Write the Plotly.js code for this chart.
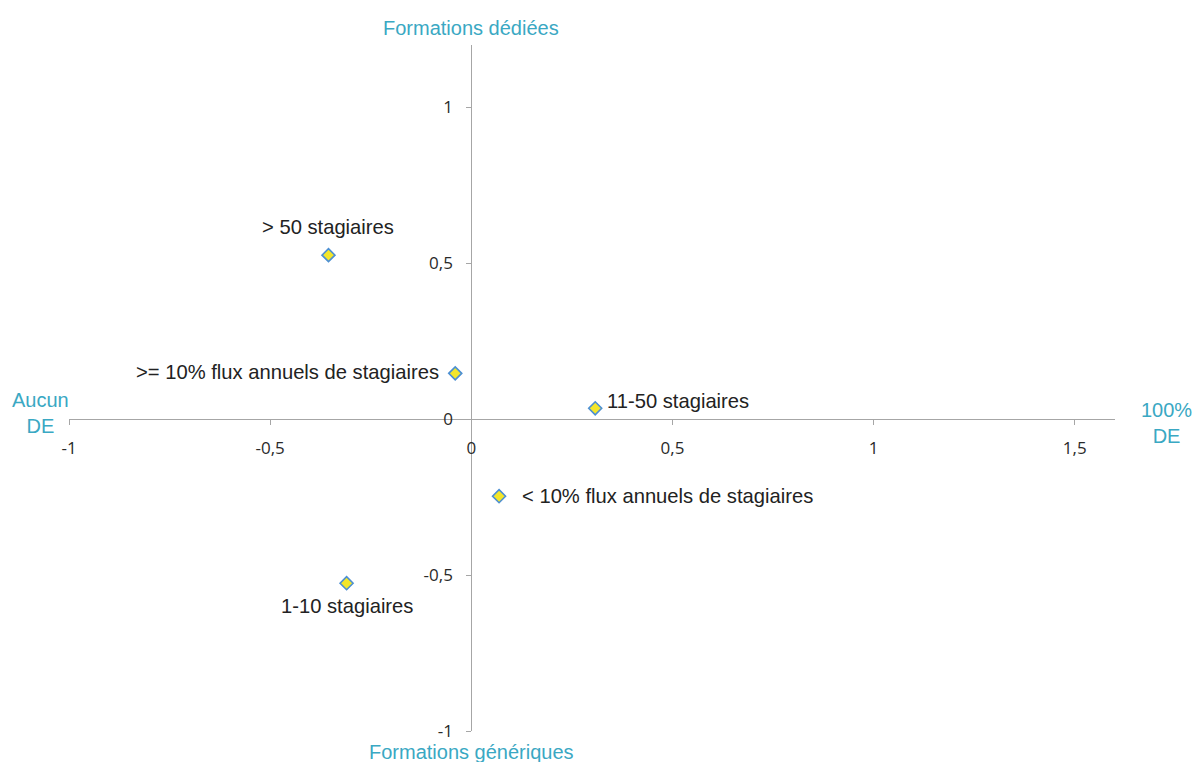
<!DOCTYPE html>
<html>
<head>
<meta charset="utf-8">
<script src="https://cdn.plot.ly/plotly-3.0.1.min.js"></script>
<style>html,body{margin:0;padding:0;background:#fff;}#chart{width:1192px;height:762px;}</style>
</head>
<body>
<div id="chart"></div>
<script>
// Data
const labels = ["> 50 stagiaires", ">= 10% flux annuels de stagiaires", "11-50 stagiaires", "< 10% flux annuels de stagiaires", "1-10 stagiaires"];
const xValues = [-0.355, -0.04, 0.308, 0.069, -0.31];
const yValues = [0.526, 0.147, 0.035, -0.247, -0.526];
const xTickVals = [-1, -0.5, 0, 0.5, 1, 1.5];
const xTickText = ["-1", "-0,5", "0", "0,5", "1", "1,5"];
const yTickVals = [-1, -0.5, 0, 0.5, 1];
const yTickText = ["-1", "-0,5", "0", "0,5", "1"];

// Label placement styles
const labelStyle = [
  {xanchor: "center", yanchor: "middle", xshift: 0, yshift: 28},
  {xanchor: "right", yanchor: "middle", xshift: -14, yshift: 1},
  {xanchor: "left", yanchor: "middle", xshift: 10, yshift: 7},
  {xanchor: "left", yanchor: "middle", xshift: 21, yshift: 0},
  {xanchor: "center", yanchor: "middle", xshift: 0, yshift: -23}
];

const teal = "#3aa8c3";
const txtFont = {family: "Liberation Sans, Arial, sans-serif", size: 20.2, color: "#222"};

const annotations = labels.map((t, i) => Object.assign({
  x: xValues[i], y: yValues[i], xref: "x", yref: "y", text: t, showarrow: false, font: txtFont
}, labelStyle[i]));

const tealFont = {family: "Liberation Sans, Arial, sans-serif", size: 20, color: teal};
annotations.push(
  {xref: "paper", yref: "paper", x: 0.3846, y: 1, yshift: 17, text: "Formations dédiées", showarrow: false, font: tealFont, xanchor: "center", yanchor: "middle"},
  {xref: "paper", yref: "paper", x: 0.3846, y: 0, yshift: -21, text: "Formations génériques", showarrow: false, font: tealFont, xanchor: "center", yanchor: "middle"},
  {xref: "paper", yref: "paper", x: 0, xshift: -29, y: 0.4545, yshift: 6, text: "Aucun<br>DE", showarrow: false, font: tealFont, xanchor: "center", yanchor: "middle", align: "center"},
  {xref: "paper", yref: "paper", x: 1, xshift: 51, y: 0.4545, yshift: -4, text: "100%<br>DE", showarrow: false, font: tealFont, xanchor: "center", yanchor: "middle", align: "center"}
);

const trace = {
  x: xValues, y: yValues, type: "scatter", mode: "markers",
  marker: {symbol: "diamond", size: 10, color: "#f3e62b", line: {color: "#4c8fd3", width: 1.6}},
  hoverinfo: "none", cliponaxis: false
};

const axisCommon = {
  showgrid: false, zeroline: false, showline: true, linecolor: "#a6a6a6", linewidth: 1,
  ticks: "outside", ticklen: 5, tickcolor: "#a6a6a6", tickwidth: 1,
  tickfont: {family: "Open Sans, Liberation Sans, Arial, sans-serif", size: 17, color: "#2a2a2a"},
  anchor: "free", fixedrange: true
};

const layout = {
  width: 1192, height: 762,
  margin: {l: 69, r: 77, t: 45, b: 31},
  paper_bgcolor: "#fff", plot_bgcolor: "#fff",
  separators: ", ",
  showlegend: false,
  xaxis: Object.assign({}, axisCommon, {range: [-1, 1.6], tickvals: xTickVals, ticktext: xTickText, position: 0.4545, ticklabelstandoff: 8}),
  yaxis: Object.assign({}, axisCommon, {range: [-1, 1.2], tickvals: yTickVals, ticktext: yTickText, position: 0.3846, ticklabelstandoff: 10}),
  annotations: annotations
};

Plotly.newPlot("chart", [trace], layout, {displayModeBar: false, staticPlot: true});
</script>
</body>
</html>
